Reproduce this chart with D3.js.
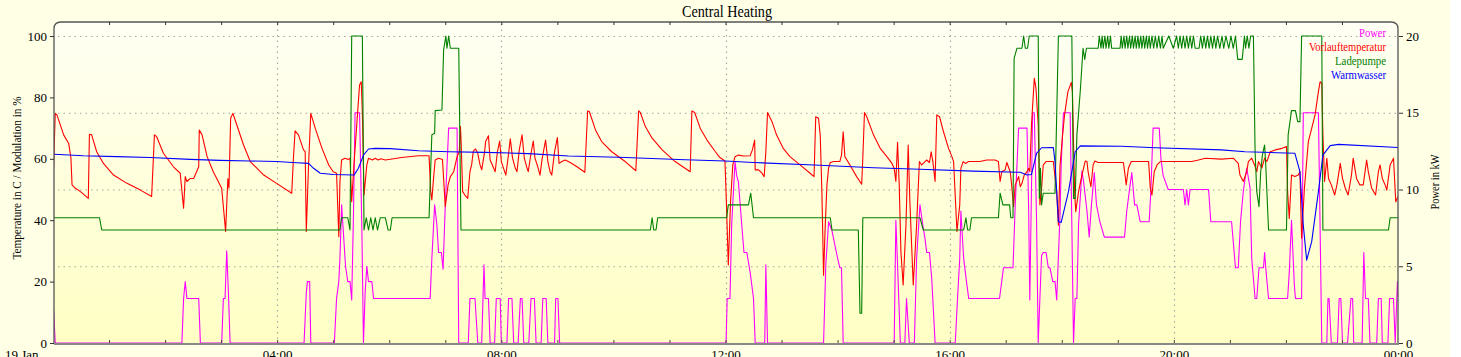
<!DOCTYPE html>
<html><head><meta charset="utf-8">
<script src="https://cdn.jsdelivr.net/npm/d3@7"></script>
<style>
html,body{margin:0;padding:0;background:#ffffff;}
svg{display:block;}
text{font-family:"Liberation Serif","Times New Roman",serif;}
</style></head><body><svg id="c" width="1461" height="357"></svg>
<script>
const title = "Central Heating";
const seriesNames = ["Power","Vorlauftemperatur","Ladepumpe","Warmwasser"];
const seriesColors = ["#ff00ff","#ff0000","#008000","#0000ff"];
const xTickHours = [0,4,8,12,16,20,24];
const xTickLabels = ["19 Jan","04:00","08:00","12:00","16:00","20:00","00:00"];
const leftTicks = [0,20,40,60,80,100];
const rightTicks = [0,5,10,15,20];
const leftTitle = "Temperature in C / Modulation in %";
const rightTitle = "Power in kW";

// [hour, kW]
const power = [[0.00,2.9],[0.04,0],[2.30,0],[2.33,2.9],[2.36,4.0],[2.39,2.9],[2.60,2.9],[2.63,0],[3.01,0],[3.04,2.9],[3.07,2.9],[3.10,6.0],[3.13,3.3],[3.16,0],[4.48,0],[4.52,3.3],[4.54,4.0],[4.58,4.0],[4.60,0],[5.02,0],[5.06,2.9],[5.10,4.0],[5.12,5.5],[5.15,9.0],[5.18,7.3],[5.22,5.0],[5.26,4.0],[5.30,4.0],[5.33,2.8],[5.36,8.1],[5.39,15.0],[5.47,15.0],[5.51,7.7],[5.54,0],[5.57,3.3],[5.60,5.0],[5.63,4.0],[5.69,4.0],[5.72,2.9],[6.73,2.9],[6.76,5.5],[6.81,9.0],[6.85,7.7],[6.88,5.9],[6.93,5.9],[6.96,4.8],[7.00,9.0],[7.06,14.0],[7.21,14.0],[7.24,0],[7.41,0],[7.44,2.9],[7.53,2.9],[7.58,0],[7.65,0],[7.69,5.1],[7.71,2.9],[7.77,2.9],[7.80,0],[7.88,0],[7.91,2.9],[7.98,2.9],[8.00,0],[8.10,0],[8.13,2.9],[8.19,2.9],[8.22,0],[8.30,0],[8.34,2.9],[8.37,2.9],[8.40,0],[8.49,0],[8.53,2.9],[8.59,2.9],[8.62,0],[8.71,0],[8.74,2.9],[8.80,2.9],[8.83,0],[8.95,0],[8.97,2.9],[9.01,2.9],[9.04,0],[12.01,0],[12.03,2.9],[12.08,2.9],[12.11,7.7],[12.17,11.8],[12.20,10.9],[12.23,10.5],[12.29,7.7],[12.33,5.9],[12.38,5.9],[12.44,4.6],[12.50,2.9],[12.53,0],[12.70,0],[12.72,5.1],[12.75,0],[13.75,0],[13.79,5.1],[13.84,7.9],[13.90,7.3],[13.99,5.7],[14.04,4.9],[14.07,4.9],[14.10,0],[15.01,0],[15.04,8.0],[15.07,5.1],[15.12,0],[15.20,0],[15.23,2.9],[15.28,0],[15.37,0],[15.41,5.5],[15.47,9.0],[15.52,7.7],[15.56,6.8],[15.59,5.9],[15.64,5.9],[15.68,4.2],[15.74,0],[16.10,0],[16.14,2.9],[16.18,5.5],[16.20,8.6],[16.25,5.5],[16.30,4.0],[16.34,2.9],[16.89,2.9],[16.96,4.9],[17.13,4.9],[17.17,9.0],[17.23,14.0],[17.38,14.0],[17.41,8.6],[17.43,2.8],[17.48,15.0],[17.51,15.0],[17.55,8.1],[17.58,0],[17.61,2.9],[17.64,5.7],[17.67,5.9],[17.72,5.9],[17.76,4.9],[17.79,4.9],[17.84,4.0],[17.88,4.0],[17.91,2.8],[17.97,8.4],[17.99,11.6],[18.03,15.0],[18.15,15.0],[18.18,7.7],[18.21,0],[18.24,2.9],[18.27,2.9],[18.30,7.7],[18.36,11.2],[18.39,10.5],[18.45,8.6],[18.49,6.9],[18.53,9.0],[18.58,11.1],[18.62,9.0],[18.68,7.9],[18.76,6.9],[19.12,6.9],[19.16,8.6],[19.22,10.3],[19.25,11.1],[19.30,9.0],[19.34,9.0],[19.40,7.9],[19.56,7.9],[19.59,9.9],[19.63,14.0],[19.74,14.0],[19.77,12.0],[19.81,10.9],[19.90,10.0],[20.17,10.0],[20.20,9.0],[20.23,10.0],[20.26,9.0],[20.29,10.0],[20.62,10.0],[20.66,7.9],[21.03,7.9],[21.10,4.9],[21.15,4.9],[21.19,7.9],[21.24,9.9],[21.30,11.4],[21.36,10.1],[21.39,5.5],[21.45,2.9],[21.48,2.9],[21.52,4.9],[21.60,4.9],[21.62,5.9],[21.64,4.9],[21.69,2.9],[22.03,2.9],[22.06,4.6],[22.10,8.0],[22.15,3.8],[22.17,2.9],[22.28,2.9],[22.31,15.0],[22.58,15.0],[22.64,0],[22.73,0],[22.75,2.9],[22.77,2.9],[22.81,0],[22.92,0],[22.95,2.9],[22.98,2.9],[23.01,0],[23.10,0],[23.16,2.9],[23.19,2.9],[23.21,0],[23.36,0],[23.39,5.9],[23.42,2.9],[23.47,2.9],[23.50,0],[23.62,0],[23.65,2.9],[23.70,2.9],[23.72,0],[23.82,0],[23.85,2.9],[23.92,2.9],[23.95,0],[23.99,4.0],[24.00,3.0]];

// [hour, °C]
const vorlauf = [[0.01,56.9],[0.04,74.8],[0.07,74.3],[0.19,67.8],[0.28,65.0],[0.32,60.2],[0.34,51.5],[0.40,50.4],[0.49,49.3],[0.63,47.1],[0.65,68.0],[0.69,67.8],[0.78,62.3],[0.90,58.5],[1.08,54.7],[1.32,52.0],[1.56,49.8],[1.76,47.7],[1.81,67.8],[1.85,67.2],[1.97,61.8],[2.15,57.4],[2.27,55.3],[2.33,43.9],[2.36,54.2],[2.39,52.6],[2.45,53.6],[2.51,53.6],[2.60,57.4],[2.61,69.4],[2.66,67.8],[2.75,60.7],[2.86,55.8],[3.01,50.4],[3.08,36.3],[3.12,53.6],[3.14,50.4],[3.17,73.2],[3.21,74.8],[3.28,71.0],[3.40,64.5],[3.52,59.1],[3.76,54.7],[3.99,52.0],[4.26,48.8],[4.29,60.2],[4.32,69.1],[4.38,67.8],[4.47,62.9],[4.50,62.3],[4.52,36.3],[4.56,58.0],[4.60,74.8],[4.68,69.9],[4.80,63.4],[4.92,58.0],[5.00,55.8],[5.06,55.3],[5.10,34.6],[5.12,52.6],[5.15,59.6],[5.21,60.2],[5.27,59.8],[5.30,60.2],[5.33,46.0],[5.37,58.0],[5.42,71.0],[5.47,84.0],[5.50,85.1],[5.52,75.4],[5.55,48.2],[5.60,58.0],[5.63,60.2],[5.70,59.6],[5.75,60.2],[5.80,59.6],[5.85,60.0],[5.93,59.6],[6.22,60.4],[6.52,61.0],[6.71,61.0],[6.74,49.3],[6.76,46.6],[6.79,53.6],[6.82,59.6],[6.88,60.2],[6.95,59.8],[6.97,53.6],[7.00,44.4],[7.05,51.5],[7.09,54.2],[7.15,55.8],[7.21,60.7],[7.25,62.3],[7.27,70.5],[7.28,66.7],[7.31,49.3],[7.35,48.2],[7.40,47.1],[7.44,55.8],[7.47,58.0],[7.50,62.5],[7.54,63.2],[7.58,61.8],[7.62,58.0],[7.65,56.4],[7.70,62.1],[7.72,65.6],[7.77,67.5],[7.80,59.6],[7.84,58.0],[7.89,55.8],[7.93,62.3],[7.97,65.8],[8.00,59.1],[8.04,56.9],[8.08,54.7],[8.12,60.2],[8.16,66.5],[8.20,60.2],[8.25,56.9],[8.28,55.8],[8.32,62.9],[8.37,67.8],[8.41,60.2],[8.46,56.9],[8.48,55.8],[8.53,61.8],[8.57,65.8],[8.60,60.2],[8.65,57.4],[8.69,54.7],[8.73,60.2],[8.79,66.1],[8.83,59.1],[8.87,55.8],[8.90,54.7],[8.95,62.3],[9.00,66.9],[9.03,58.5],[9.08,59.1],[9.14,59.6],[9.23,58.8],[9.35,57.4],[9.49,55.6],[9.54,75.6],[9.57,75.4],[9.68,69.4],[9.79,65.6],[9.97,62.3],[10.21,59.1],[10.40,56.1],[10.45,75.6],[10.48,75.1],[10.57,70.5],[10.69,66.7],[10.87,62.9],[11.10,59.1],[11.37,55.8],[11.40,75.6],[11.45,75.1],[11.55,69.9],[11.67,66.1],[11.82,62.3],[11.90,60.4],[11.99,59.3],[12.01,49.3],[12.05,25.4],[12.09,46.0],[12.13,58.0],[12.17,60.7],[12.23,61.2],[12.32,60.9],[12.44,61.0],[12.48,62.9],[12.52,66.1],[12.53,56.4],[12.59,56.4],[12.65,55.3],[12.69,54.2],[12.72,62.3],[12.75,75.1],[12.83,72.1],[12.91,67.8],[13.03,63.4],[13.15,60.7],[13.33,58.0],[13.51,55.3],[13.58,54.2],[13.61,73.7],[13.66,73.2],[13.69,67.8],[13.72,49.3],[13.75,22.1],[13.78,38.4],[13.81,51.5],[13.84,57.0],[13.87,58.8],[13.93,59.1],[14.04,59.1],[14.07,61.2],[14.10,68.8],[14.13,60.7],[14.22,58.0],[14.34,54.2],[14.43,51.7],[14.45,60.2],[14.48,75.1],[14.52,73.7],[14.64,67.8],[14.76,63.4],[14.88,60.7],[14.97,58.5],[15.01,56.9],[15.04,52.6],[15.07,65.4],[15.10,51.5],[15.13,29.8],[15.17,18.9],[15.22,38.4],[15.26,64.5],[15.29,46.0],[15.35,18.9],[15.41,38.4],[15.46,59.1],[15.50,58.0],[15.56,59.1],[15.59,59.6],[15.64,58.8],[15.67,62.3],[15.70,59.1],[15.74,52.6],[15.77,74.3],[15.82,73.7],[15.89,68.8],[15.98,63.4],[16.04,60.7],[16.07,59.1],[16.13,36.3],[16.18,45.0],[16.20,56.9],[16.24,59.1],[16.28,58.5],[16.34,59.1],[16.54,59.1],[16.66,59.6],[16.81,59.6],[16.87,59.1],[16.90,52.6],[16.93,55.8],[16.99,56.4],[17.02,58.8],[17.08,55.8],[17.10,52.6],[17.14,44.4],[17.17,51.5],[17.23,54.2],[17.26,50.9],[17.29,52.0],[17.33,54.7],[17.38,55.8],[17.41,56.9],[17.43,55.8],[17.46,71.0],[17.51,86.2],[17.54,83.0],[17.58,71.0],[17.61,45.0],[17.64,50.4],[17.67,58.0],[17.72,59.1],[17.85,59.1],[17.88,54.0],[17.91,49.3],[17.94,38.4],[17.97,58.0],[18.01,66.7],[18.05,74.3],[18.11,81.9],[18.17,84.9],[18.19,81.9],[18.23,49.3],[18.25,42.8],[18.30,49.3],[18.36,54.7],[18.42,59.3],[18.45,59.1],[18.47,55.8],[18.52,50.9],[18.56,58.0],[18.59,59.3],[18.65,58.8],[19.10,58.8],[19.13,54.7],[19.15,51.5],[19.19,57.0],[19.24,59.1],[19.55,59.1],[19.58,50.4],[19.61,48.2],[19.65,55.8],[19.70,58.0],[19.76,59.1],[20.32,59.1],[20.44,59.6],[20.56,60.2],[20.85,59.9],[21.06,60.2],[21.15,58.5],[21.18,54.7],[21.24,52.6],[21.30,55.8],[21.33,59.1],[21.39,60.2],[21.44,58.0],[21.48,55.8],[21.51,59.1],[21.57,57.0],[21.62,60.2],[21.66,59.1],[21.72,62.3],[21.81,62.9],[21.93,63.4],[22.01,64.0],[22.03,49.3],[22.06,40.6],[22.10,54.7],[22.16,54.2],[22.22,54.7],[22.25,55.8],[22.28,34.1],[22.33,50.4],[22.40,65.6],[22.46,69.9],[22.52,74.3],[22.58,81.9],[22.61,85.1],[22.64,84.6],[22.66,67.8],[22.69,52.6],[22.73,60.2],[22.76,53.6],[22.81,51.5],[22.87,48.2],[22.91,51.5],[22.97,58.5],[23.01,53.6],[23.06,50.4],[23.11,48.2],[23.17,54.7],[23.20,60.2],[23.26,53.6],[23.32,51.5],[23.38,51.5],[23.44,59.6],[23.47,55.8],[23.53,50.4],[23.60,48.2],[23.65,55.8],[23.68,58.0],[23.72,53.6],[23.77,51.5],[23.80,49.8],[23.86,58.0],[23.92,60.2],[23.96,46.0],[24.00,47.7]];

// [hour, %]
const ladepumpe = [[0.00,40.8],[0.83,40.8],[0.87,36.8],[5.12,36.8],[5.15,40.8],[5.26,40.8],[5.30,36.8],[5.33,100],[5.52,100],[5.55,36.8],[5.59,40.8],[5.63,36.8],[5.67,40.8],[5.71,36.8],[5.75,40.8],[5.79,36.8],[5.84,40.8],[5.93,40.8],[5.98,36.8],[6.02,36.8],[6.05,40.8],[6.71,40.8],[6.76,67.8],[6.81,68.3],[6.82,75.7],[6.94,75.9],[6.97,95.4],[7.01,100],[7.03,96.0],[7.06,100],[7.09,96.0],[7.24,96.0],[7.28,36.8],[10.66,36.8],[10.69,40.8],[10.72,36.8],[10.76,36.8],[10.79,40.8],[12.02,40.8],[12.05,45.0],[12.41,45.0],[12.45,48.8],[12.50,40.8],[13.87,40.8],[13.90,36.8],[14.37,36.8],[14.40,9.7],[14.43,9.7],[14.45,40.8],[15.47,40.8],[15.53,36.8],[16.25,36.8],[16.29,40.8],[16.32,36.8],[16.36,36.8],[16.39,40.8],[16.87,40.8],[16.90,48.8],[16.95,45.0],[17.07,45.0],[17.09,40.8],[17.13,40.8],[17.15,92.7],[17.20,96.0],[17.29,96.0],[17.32,100],[17.35,96.0],[17.39,96.0],[17.42,100],[17.58,100],[17.60,47.1],[17.62,56.9],[17.64,45.0],[17.67,48.8],[17.88,48.8],[17.94,100],[18.18,100],[18.21,47.1],[18.24,47.1],[18.27,67.8],[18.33,81.9],[18.38,96],[18.41,92.4],[18.44,96],[18.65,96],[18.67,100],[18.70,96],[18.72,100],[18.74,96],[18.77,100],[18.79,96],[18.82,100],[18.84,96],[18.87,100],[18.89,96],[19.04,96],[19.06,100],[19.08,96],[19.11,100],[19.13,96],[19.16,100],[19.18,96],[19.21,100],[19.23,96],[19.26,100],[19.28,96],[19.31,100],[19.33,96],[19.36,100],[19.38,96],[19.41,100],[19.43,96],[19.46,100],[19.48,96],[19.51,100],[19.53,96],[19.56,100],[19.58,96],[19.61,100],[19.64,96],[19.67,100],[19.70,96],[19.73,100],[19.76,96],[19.79,100],[19.81,96],[19.91,100],[19.99,96],[20.05,100],[20.08,96],[20.11,100],[20.14,96],[20.17,100],[20.20,96],[20.23,100],[20.26,96],[20.29,100],[20.32,96],[20.35,100],[20.38,96],[20.45,96],[20.48,100],[20.51,96],[20.54,100],[20.57,96],[20.60,100],[20.63,96],[20.66,100],[20.69,96],[20.72,100],[20.75,96],[20.78,100],[20.82,96],[20.86,100],[20.89,96],[20.93,100],[20.98,96],[21.02,100],[21.06,96],[21.10,100],[21.14,92.4],[21.22,92.4],[21.26,100],[21.28,96],[21.31,100],[21.34,96],[21.37,100],[21.42,100],[21.45,62.3],[21.48,49.3],[21.52,44.4],[21.55,55.8],[21.58,61.2],[21.62,64.5],[21.64,58.0],[21.69,36.8],[22.01,36.8],[22.04,67.8],[22.10,75.7],[22.17,75.7],[22.21,72.1],[22.25,72.1],[22.28,100],[22.64,100],[22.66,36.8],[23.83,36.8],[23.86,40.8],[24.00,40.8]];

// [hour, °C]
const warmwasser = [[0.01,61.5],[0.54,61.0],[1.14,60.7],[1.73,60.4],[2.45,59.8],[2.98,59.5],[3.52,59.3],[3.99,59.1],[4.35,58.7],[4.56,58.5],[4.65,56.9],[4.77,55.3],[5.00,54.9],[5.37,54.7],[5.45,56.9],[5.54,61.2],[5.63,63.2],[5.75,63.4],[6.02,63.3],[6.52,62.6],[7.06,62.3],[7.71,62.1],[8.48,61.7],[9.20,60.9],[10.09,60.5],[11.28,59.7],[12.00,59.3],[12.50,58.8],[13.69,57.9],[14.64,57.1],[15.47,56.6],[16.42,56.0],[17.26,55.6],[17.38,54.7],[17.46,54.9],[17.55,61.8],[17.64,63.6],[17.85,63.7],[17.88,59.0],[17.94,39.5],[17.99,39.3],[18.12,49.3],[18.24,62.3],[18.33,64.2],[19.07,64.1],[19.67,63.6],[20.85,62.9],[21.27,62.3],[21.98,61.9],[22.16,61.8],[22.25,55.8],[22.31,38.4],[22.37,27.0],[22.46,33.0],[22.58,49.3],[22.66,61.2],[22.79,64.3],[22.94,64.7],[24.00,63.7]];

const svg = d3.select("#c");
const L = 54, R = 1398, T = 22, B = 343;
const x = d3.scaleLinear().domain([0,24]).range([53,1398]);
const yL = d3.scaleLinear().domain([0,100]).range([343,36]);
const yR = d3.scaleLinear().domain([0,20]).range([343,36]);

svg.append("rect").attr("width",1450).attr("height",357).attr("fill","#ffffe6");

const defs = svg.append("defs");
const grad = defs.append("linearGradient").attr("id","bg").attr("x1",0).attr("y1",0).attr("x2",0).attr("y2",1);
grad.append("stop").attr("offset","0%").attr("stop-color","#fffff4");
grad.append("stop").attr("offset","100%").attr("stop-color","#ffffc4");
defs.append("clipPath").attr("id","clip").append("rect")
  .attr("x",L).attr("y",T).attr("width",R-L).attr("height",B-T+1);

const frameD = `M${L},${B} V${T+7} Q${L},${T} ${L+7},${T} H${R-7} Q${R},${T} ${R},${T+7} V${B} Z`;
svg.append("path").attr("d",frameD).attr("fill","url(#bg)");

// grid
const grid = svg.append("g").attr("stroke","#a8a8a0").attr("stroke-width",1.2).attr("stroke-dasharray","1.5,4");
grid.selectAll("line.h").data(rightTicks.filter(d=>d>0)).join("line")
  .attr("x1",L+4).attr("x2",R).attr("y1",d=>yR(d)+0.5).attr("y2",d=>yR(d)+0.5);
grid.selectAll("line.v").data(xTickHours.filter(d=>d>0&&d<24)).join("line")
  .attr("x1",d=>Math.round(x(d))+0.5).attr("x2",d=>Math.round(x(d))+0.5).attr("y1",T+2).attr("y2",B);

// series
const lines = svg.append("g").attr("clip-path","url(#clip)");
const allSeries = [
  {data:power, y:yR},
  {data:vorlauf, y:yL},
  {data:ladepumpe, y:yL},
  {data:warmwasser, y:yL}
];
allSeries.forEach((s,i)=>{
  const gen = d3.line().x(d=>x(d[0])).y(d=>s.y(d[1]));
  lines.append("path").attr("d",gen(s.data)).attr("fill","none")
    .attr("stroke",seriesColors[i]).attr("stroke-width",1.1).attr("stroke-linejoin","round");
});

// frame
svg.append("path").attr("d",`M${L},${B+1} V${T+7} Q${L},${T} ${L+7},${T} H${R-7} Q${R},${T} ${R},${T+7} V${B+1}`)
  .attr("fill","none").attr("stroke","#555").attr("stroke-width",1.3);
svg.append("line").attr("x1",L).attr("x2",R+1).attr("y1",B+1).attr("y2",B+1)
  .attr("stroke","#888").attr("stroke-width",2);

// hourly minor ticks
const hours = d3.range(1,24);
const topTicks = svg.append("g").attr("transform",`translate(0,${T})`)
  .call(d3.axisTop(x).tickValues(hours).tickSize(-3).tickFormat(""));
topTicks.select(".domain").remove();
topTicks.selectAll("line").attr("stroke","#333");
const botTicks = svg.append("g").attr("transform",`translate(0,${B})`)
  .call(d3.axisBottom(x).tickValues(hours).tickSize(-3).tickFormat(""));
botTicks.select(".domain").remove();
botTicks.selectAll("line").attr("stroke","#444");

// x labels
const xAxis = svg.append("g").attr("transform",`translate(0,${B+1})`)
  .call(d3.axisBottom(x).tickValues(xTickHours).tickFormat((d,i)=>xTickLabels[i]).tickSize(0).tickPadding(6));
xAxis.select(".domain").remove();
xAxis.selectAll("text").attr("font-family","Liberation Serif, serif").attr("font-size",13).attr("fill","#000");
xAxis.selectAll("text").filter(d=>d===0).attr("text-anchor","end").attr("x",-15);

// left axis
const la = svg.append("g").attr("transform",`translate(${L},0)`)
  .call(d3.axisLeft(yL).tickValues(leftTicks).tickSize(4).tickPadding(3));
la.select(".domain").remove();
la.selectAll("line").attr("stroke","#333");
la.selectAll("text").attr("font-family","Liberation Serif, serif").attr("font-size",13).attr("fill","#000");

// right axis
const ra = svg.append("g").attr("transform",`translate(${R+1},0)`)
  .call(d3.axisRight(yR).tickValues(rightTicks).tickSize(4).tickPadding(3));
ra.select(".domain").remove();
ra.selectAll("line").attr("stroke","#333");
ra.selectAll("text").attr("font-family","Liberation Serif, serif").attr("font-size",13).attr("fill","#000");

// titles
svg.append("text").attr("x",727).attr("y",17.3).attr("text-anchor","middle")
  .attr("font-size",16).attr("textLength",90).attr("lengthAdjust","spacingAndGlyphs").text(title);
svg.append("text").attr("transform","translate(21,178) rotate(-90)").attr("text-anchor","middle")
  .attr("font-size",13).attr("textLength",163).attr("lengthAdjust","spacingAndGlyphs").text(leftTitle);
svg.append("text").attr("transform","translate(1439,182) rotate(-90)").attr("text-anchor","middle")
  .attr("font-size",13).attr("textLength",55).attr("lengthAdjust","spacingAndGlyphs").text(rightTitle);

// legend
const legendWidths = [27,77,51,55];
seriesNames.forEach((n,i)=>{
  svg.append("text").attr("x",1386 - legendWidths[i]).attr("y",37+14*i)
    .attr("font-size",13).attr("fill",seriesColors[i])
    .attr("textLength",legendWidths[i]).attr("lengthAdjust","spacingAndGlyphs").text(n);
});
</script></body></html>
